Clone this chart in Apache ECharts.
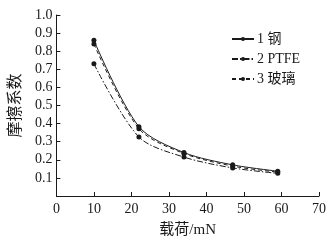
<!DOCTYPE html>
<html>
<head>
<meta charset="utf-8">
<script src="https://cdn.jsdelivr.net/npm/echarts@6/dist/echarts.min.js"></script>
<style>
  html, body { margin: 0; padding: 0; background: #fff; }
  #chart { width: 336px; height: 243px; }
</style>
</head>
<body>
<div id="chart"></div>
<script>
// 载荷 (mN)
const loads = [10, 22, 34, 47, 59]
// 摩擦系数
const steel = [0.86, 0.383, 0.24, 0.172, 0.137]
const ptfe = [0.73, 0.326, 0.215, 0.155, 0.125]
const glass = [0.84, 0.372, 0.235, 0.165, 0.132]

const FONT = '"Liberation Serif", "Noto Sans CJK SC", serif'
const INK = '#1a1a1a'

const pairs = (ys) => loads.map((x, i) => [x, ys[i]])

const mkSeries = (name, ys, type) => ({
  name,
  type: 'line',
  data: pairs(ys),
  smooth: 0.3,
  symbol: 'circle',
  symbolSize: 5,
  itemStyle: { color: INK },
  lineStyle: { color: INK, width: 1, type },
})

const chart = echarts.init(document.getElementById('chart'))
chart.setOption({
  animation: false,
  grid: { left: 49, right: 17, top: 15, bottom: 40 },
  legend: {
    orient: 'vertical',
    left: 226,
    top: 27,
    itemWidth: 22,
    itemHeight: 5,
    itemGap: 6,
    textStyle: { fontFamily: FONT, fontSize: 14, color: INK, padding: [0, 0, 0, -2] },
    data: ['1 钢', '2 PTFE', '3 玻璃'],
  },
  xAxis: {
    type: 'value',
    min: 0,
    max: 70,
    interval: 10,
    name: '载荷/mN',
    nameLocation: 'middle',
    nameGap: 27,
    nameTextStyle: { fontFamily: FONT, fontSize: 15, color: INK },
    axisLine: { lineStyle: { color: INK, width: 1 } },
    axisTick: { inside: true, length: 4, lineStyle: { color: INK } },
    axisLabel: { fontFamily: FONT, fontSize: 14, color: INK, margin: 6 },
    splitLine: { show: false },
  },
  yAxis: {
    type: 'value',
    min: 0,
    max: 1.0,
    interval: 0.1,
    name: '摩擦系数',
    nameLocation: 'middle',
    nameRotate: 90,
    nameGap: 31,
    nameTextStyle: { fontFamily: FONT, fontSize: 16, color: INK },
    axisLine: { show: true, lineStyle: { color: INK, width: 1 } },
    axisTick: { inside: true, length: 4, lineStyle: { color: INK } },
    axisLabel: {
      fontFamily: FONT,
      fontSize: 14,
      color: INK,
      margin: 4,
      formatter: (v) => (v === 0 ? '' : v.toFixed(1)),
    },
    splitLine: { show: false },
  },
  series: [
    mkSeries('1 钢', steel, 'solid'),
    mkSeries('2 PTFE', ptfe, [6, 2, 1.5, 2]),
    mkSeries('3 玻璃', glass, [4, 3]),
  ],
})
</script>
</body>
</html>
